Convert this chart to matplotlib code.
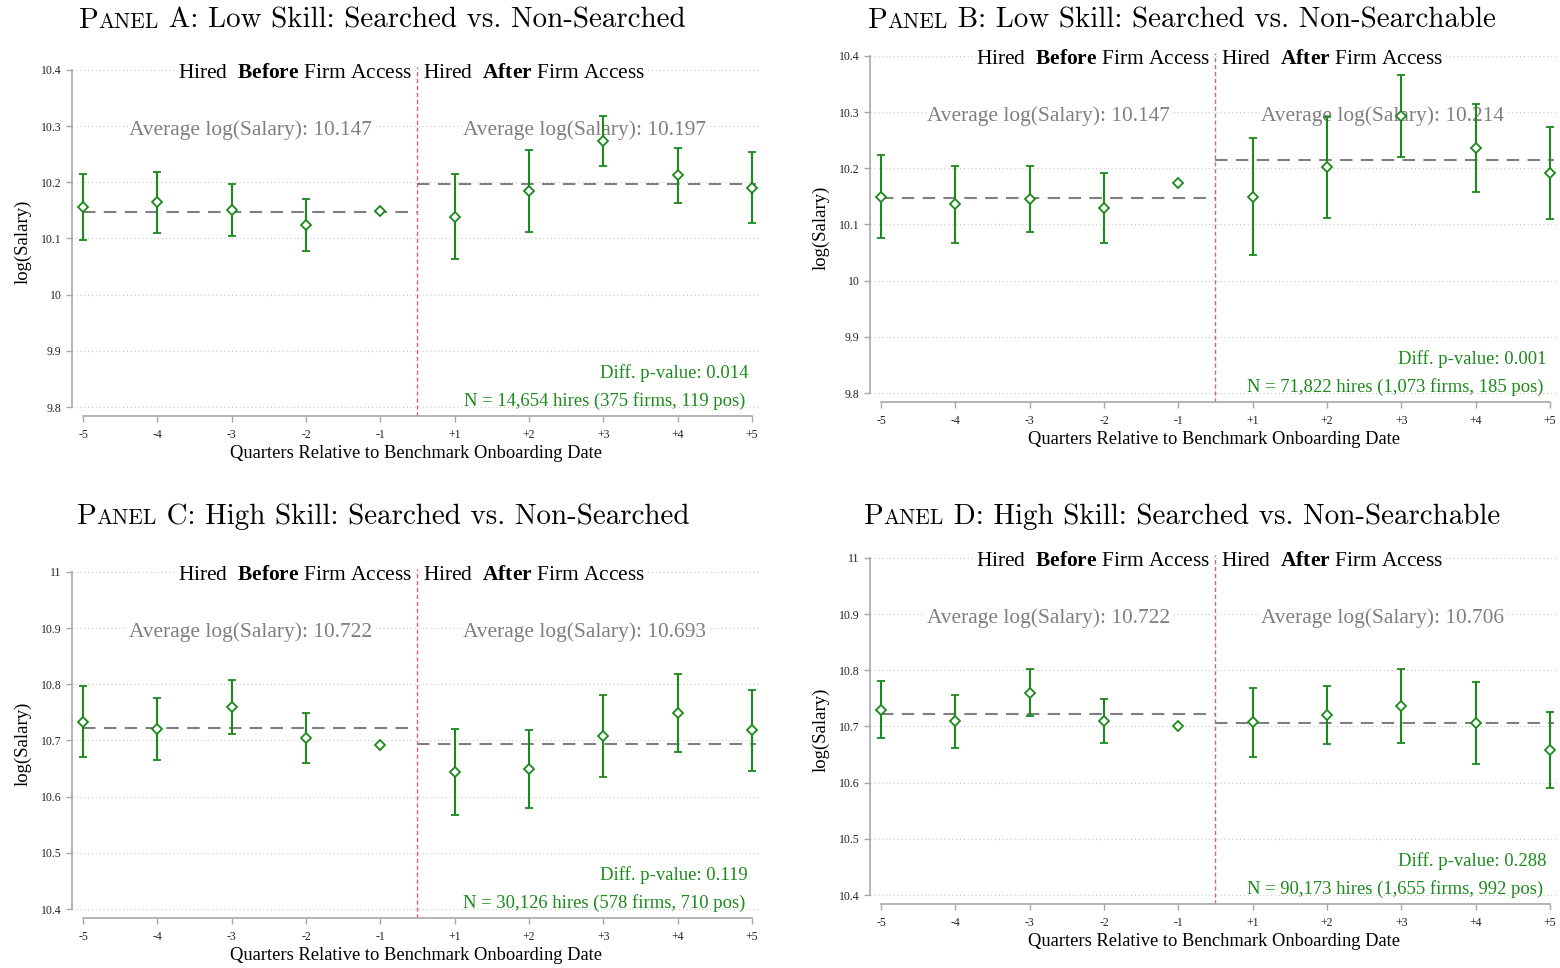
import numpy as np
import matplotlib
matplotlib.use('Agg')
import matplotlib.pyplot as plt

plt.rcParams['font.family'] = ['Liberation Serif', 'DejaVu Serif']
plt.rcParams['mathtext.fontset'] = 'custom'
plt.rcParams['mathtext.rm'] = 'Liberation Serif'
plt.rcParams['mathtext.bf'] = 'Liberation Serif:bold'

nan = np.nan

# Quarters relative to onboarding (reference quarter -1 has no CI)
quarters = ['-5', '-4', '-3', '-2', '-1', '+1', '+2', '+3', '+4', '+5']

# Panel A: Low skill, searched vs non-searched
a_coef = [10.155, 10.164, 10.151, 10.124, 10.149, 10.138, 10.185, 10.273, 10.212, 10.190]
a_lo = [10.097, 10.109, 10.105, 10.077, nan, 10.063, 10.112, 10.228, 10.163, 10.128]
a_hi = [10.215, 10.218, 10.196, 10.171, nan, 10.214, 10.257, 10.317, 10.260, 10.253]
a_means = [10.147, 10.197]

# Panel B: Low skill, searched vs non-searchable
b_coef = [10.149, 10.136, 10.145, 10.129, 10.174, 10.149, 10.202, 10.293, 10.236, 10.192]
b_lo = [10.076, 10.067, 10.086, 10.067, nan, 10.045, 10.111, 10.220, 10.158, 10.110]
b_hi = [10.223, 10.204, 10.204, 10.191, nan, 10.253, 10.291, 10.365, 10.314, 10.274]
b_means = [10.147, 10.214]

# Panel C: High skill, searched vs non-searched
c_coef = [10.733, 10.720, 10.760, 10.704, 10.691, 10.644, 10.649, 10.708, 10.749, 10.718]
c_lo = [10.670, 10.665, 10.711, 10.659, nan, 10.568, 10.580, 10.635, 10.679, 10.645]
c_hi = [10.796, 10.775, 10.808, 10.749, nan, 10.720, 10.718, 10.780, 10.818, 10.790]
c_means = [10.722, 10.693]

# Panel D: High skill, searched vs non-searchable
d_coef = [10.729, 10.709, 10.760, 10.710, 10.701, 10.707, 10.721, 10.737, 10.706, 10.658]
d_lo = [10.679, 10.662, 10.718, 10.670, nan, 10.646, 10.669, 10.671, 10.634, 10.591]
d_hi = [10.780, 10.756, 10.803, 10.749, nan, 10.769, 10.772, 10.802, 10.779, 10.726]
d_means = [10.722, 10.706]

titles = ['Low Skill: Searched vs. Non-Searched', 'Low Skill: Searched vs. Non-Searchable',
          'High Skill: Searched vs. Non-Searched', 'High Skill: Searched vs. Non-Searchable']
letters = ['A', 'B', 'C', 'D']
pvalues = ['0.014', '0.001', '0.119', '0.288']
n_texts = ['N = 14,654 hires (375 firms, 119 pos)', 'N = 71,822 hires (1,073 firms, 185 pos)',
           'N = 30,126 hires (578 firms, 710 pos)', 'N = 90,173 hires (1,655 firms, 992 pos)']
yranges = [(9.8, 10.4), (9.8, 10.4), (10.4, 11.0), (10.4, 11.0)]

GREEN = '#1a8a1a'
GRAY = '#7f7f7f'
SPINE = '#a8a8a8'

W, H = 1560, 968
fig = plt.figure(figsize=(W / 100, H / 100), dpi=100)

# axes boxes in pixels: left, top, right, bottom
boxes = [(72, 67, 760, 416), (870, 53, 1558, 402), (72, 569, 760, 918), (870, 555, 1558, 904)]
title_pos = [(382, 28), (1182, 28), (383, 524), (1182, 524)]

panels = [(a_coef, a_lo, a_hi, a_means), (b_coef, b_lo, b_hi, b_means),
          (c_coef, c_lo, c_hi, c_means), (d_coef, d_lo, d_hi, d_means)]

x = np.arange(len(quarters))

for k, (coef, lo, hi, means) in enumerate(panels):
    l, t, r, b = boxes[k]
    ax = fig.add_axes([l / W, 1 - b / H, (r - l) / W, (b - t) / H])
    ymin, ymax = yranges[k]
    ax.set_xlim(-0.15, 9.11)
    ax.set_ylim(ymin - 0.016, ymax + 0.005)

    yticks = np.round(np.arange(ymin, ymax + 0.001, 0.1), 1)
    ax.set_yticks(yticks)
    ax.set_yticklabels(['%g' % v for v in yticks])
    ax.set_xticks(x)
    ax.set_xticklabels(quarters)
    for yv in yticks:
        ax.axhline(yv, color='#c8c8c8', lw=0.8, ls=(0, (1, 2.5)), zorder=0)

    for s in ['top', 'right']:
        ax.spines[s].set_visible(False)
    ax.spines['left'].set_bounds(ymin, ymax)
    ax.spines['bottom'].set_bounds(0, 9)
    for s in ['left', 'bottom']:
        ax.spines[s].set_color(SPINE)
        ax.spines[s].set_linewidth(1.2)
    ax.tick_params(axis='both', colors=SPINE, labelcolor='#222222', labelsize=8.5, length=4, width=1)
    ax.tick_params(axis='x', pad=5)

    # event line and period means
    ax.axvline(4.5, color='#c96a6a', lw=1, ls=(0, (3, 2)), zorder=1)
    ax.plot([0, 4.5], [means[0]] * 2, color=GRAY, lw=1.5, ls=(0, (6, 4)), zorder=2)
    ax.plot([4.5, 9.05], [means[1]] * 2, color=GRAY, lw=1.5, ls=(0, (6, 4)), zorder=2)

    coef = np.array(coef)
    err = np.vstack([coef - np.array(lo), np.array(hi) - coef])
    ax.errorbar(x, coef, yerr=err, fmt='D', color=GREEN, ms=5, mfc='white', mec=GREEN,
                mew=1.3, elinewidth=1.5, capsize=3, capthick=1.3, zorder=4)

    bb = dict(facecolor='white', edgecolor='none', pad=1)
    ax.text(4.43, ymax - 0.002, r'Hired  $\mathbf{Before}$ Firm Access', ha='right',
            va='center_baseline', fontsize=15.4, color='black', bbox=bb, zorder=2.5)
    ax.text(4.57, ymax - 0.002, r'Hired  $\mathbf{After}$ Firm Access', ha='left',
            va='center_baseline', fontsize=15.4, color='black', bbox=bb, zorder=2.5)
    ax.text(2.25, ymax - 0.102, 'Average log(Salary): %.3f' % means[0], ha='center',
            va='center_baseline', fontsize=15.4, color=GRAY, bbox=bb, zorder=2.5)
    ax.text(6.75, ymax - 0.102, 'Average log(Salary): %.3f' % means[1], ha='center',
            va='center_baseline', fontsize=15.4, color=GRAY, bbox=bb, zorder=2.5)
    ax.text(8.95, ymin + 0.064, 'Diff. p-value: ' + pvalues[k], ha='right', va='center_baseline',
            fontsize=13.4, color=GREEN, zorder=2.5)
    ax.text(8.91, ymin + 0.014, n_texts[k], ha='right', va='center_baseline',
            fontsize=13.4, color=GREEN, zorder=2.5)

    ax.set_ylabel('log(Salary)', fontsize=13.5, labelpad=7)
    ax.set_xlabel('Quarters Relative to Benchmark Onboarding Date', fontsize=13.3, labelpad=3)

# Titles with small caps "Panel", in Computer Modern
renderer = fig.canvas.get_renderer()
for k in range(4):
    xc, base = title_pos[k]
    parts = [('P', 20.9), ('ANEL', 15.5), (' ' + letters[k] + ': ' + titles[k], 20.9)]
    texts = [fig.text(0, 1 - base / H, s, fontsize=sz, family='cmr10', va='baseline', ha='left')
             for s, sz in parts]
    widths = [tt.get_window_extent(renderer).width for tt in texts]
    xp = xc - sum(widths) / 2
    for tt, w in zip(texts, widths):
        tt.set_x(xp / W)
        xp += w

fig.savefig('out.png', dpi=100)
